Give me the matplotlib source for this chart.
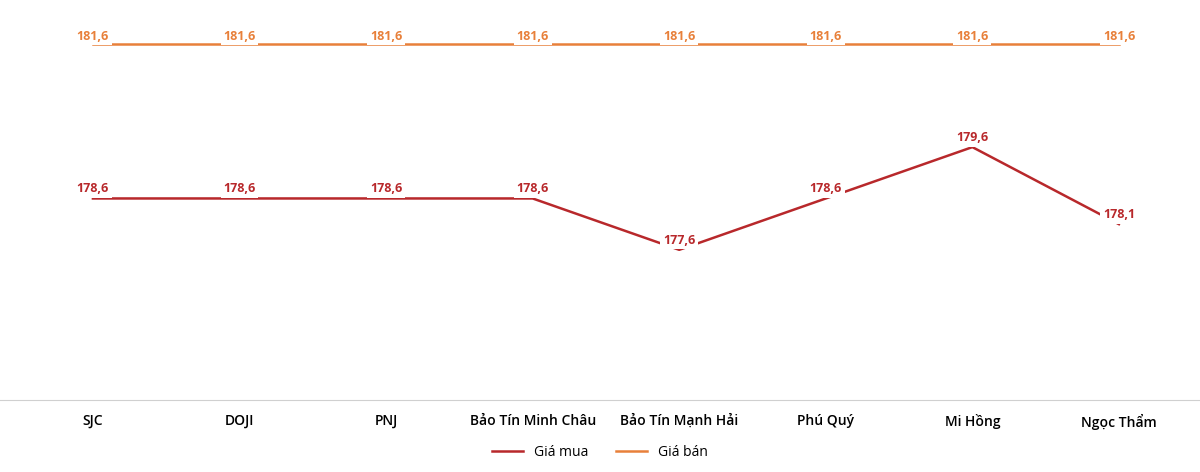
import matplotlib.pyplot as plt

plt.rcParams['font.family'] = ['Open Sans', 'DejaVu Sans']

shops = ['SJC', 'DOJI', 'PNJ', 'Bảo Tín Minh Châu', 'Bảo Tín Mạnh Hải',
         'Phú Quý', 'Mi Hồng', 'Ngọc Thẩm']
buy = [178.6, 178.6, 178.6, 178.6, 177.6, 178.6, 179.6, 178.1]
sell = [181.6, 181.6, 181.6, 181.6, 181.6, 181.6, 181.6, 181.6]

BUY_COLOR = '#B8282B'
SELL_COLOR = '#E8803A'

fig = plt.figure(figsize=(12, 4.72), dpi=100)
ax = fig.add_axes([0.0, 0.153, 1.0, 0.84])
x = list(range(len(shops)))
ax.plot(x, buy, color=BUY_COLOR, lw=1.8, label='Giá mua')
ax.plot(x, sell, color=SELL_COLOR, lw=1.8, label='Giá bán')

def fmt(v):
    return f'{v:.1f}'.replace('.', ',')

for i, v in enumerate(buy):
    ax.annotate(fmt(v), (i, v), xytext=(0, 7), textcoords='offset points',
                ha='center', va='center', fontsize=9, fontweight='bold',
                color=BUY_COLOR, bbox=dict(fc='white', ec='none', pad=2))
for i, v in enumerate(sell):
    ax.annotate(fmt(v), (i, v), xytext=(0, 6), textcoords='offset points',
                ha='center', va='center', fontsize=9, fontweight='bold',
                color=SELL_COLOR, bbox=dict(fc='white', ec='none', pad=2))

ax.set_xlim(-0.634, 7.553)
ax.set_ylim(174.68, 182.4)
ax.set_xticks(x)
ax.set_xticklabels(shops, fontsize=10, fontweight='semibold')
ax.tick_params(axis='x', length=0, pad=10)
ax.set_yticks([])
for s in ['top', 'left', 'right']:
    ax.spines[s].set_visible(False)
ax.spines['bottom'].set_color('#D0D0D0')

fig.legend(loc='lower center', ncol=2, frameon=False, fontsize=10,
           bbox_to_anchor=(0.5, 0.0), handlelength=2.2)

plt.savefig('out.png')
